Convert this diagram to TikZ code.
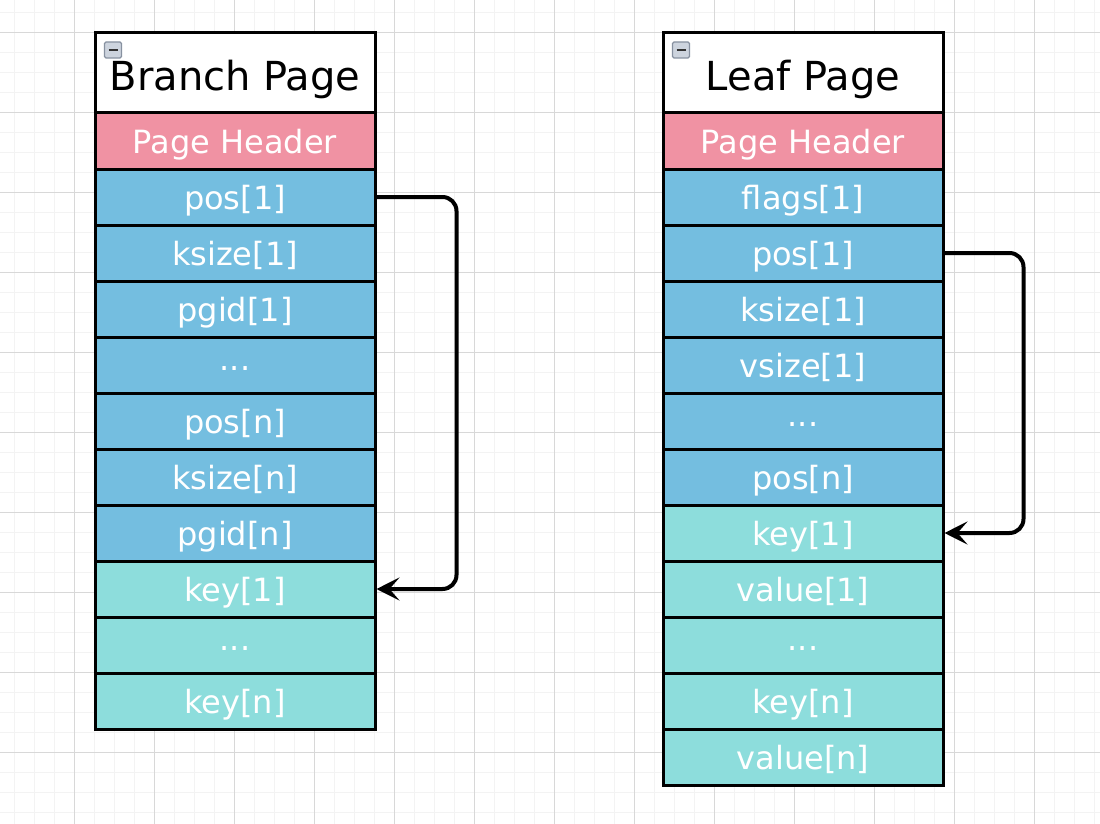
\documentclass[tikz,border=0pt]{standalone}
\usepackage{fontspec}
\setmainfont{DejaVu Sans}
\usetikzlibrary{arrows.meta}
\definecolor{hdr}{RGB}{240,146,163}
\definecolor{blu}{RGB}{116,190,224}
\definecolor{tea}{RGB}{141,221,220}
\definecolor{gmin}{RGB}{243,243,243}
\definecolor{gmaj}{RGB}{216,216,216}
\definecolor{icfill}{RGB}{205,212,222}
\definecolor{icdraw}{RGB}{135,145,160}
\tikzset{
  cell/.style={draw=black,line width=3pt,minimum width=280pt,minimum height=56pt,inner sep=0pt,
    text=white,font=\fontsize{32}{36}\selectfont,text height=25.4pt,text depth=0pt},
  dotcell/.style={text height=10pt,text depth=0pt},
  titlecell/.style={draw=black,line width=3pt,fill=white,minimum width=280pt,minimum height=80pt,inner sep=0pt,
    text=black,font=\fontsize{40}{44}\selectfont,text height=34.6pt,text depth=0pt},
  hcell/.style={cell,fill=hdr},
  bcell/.style={cell,fill=blu},
  tcell/.style={cell,fill=tea},
  link/.style={draw=black,line width=4pt,rounded corners=14pt,-{Stealth[length=23pt,width=23pt,inset=10pt]}},
  minorgrid/.style={draw=gmin,line width=1.2pt},
  majorgrid/.style={draw=gmaj,line width=1.2pt},
  collapse/.style={draw=icdraw,fill=icfill,rounded corners=1.5pt,line width=1.2pt,minimum width=17pt,minimum height=16pt,inner sep=0pt}
}
\begin{document}
\begin{tikzpicture}[x=1pt,y=-1pt]
\useasboundingbox (0,0) rectangle (1100,824);
\fill[white] (0,0) rectangle (1100,824);
% grid
\foreach \i in {0,...,54} {\draw[minorgrid] ({14.7+20*\i},0) -- ++(0,824);}
\foreach \i in {0,...,41} {\draw[minorgrid] (0,{12.7+20*\i}) -- ++(1100,0);}
\foreach \i in {0,...,13} {\draw[majorgrid] ({74.7+80*\i},0) -- ++(0,824);}
\foreach \i in {0,...,9} {\draw[majorgrid] (0,{32.7+80*\i}) -- ++(1100,0);}
% Branch page
\node[titlecell] (bt) at (235,73) {Branch Page};
\node[hcell] (bh) at (235,141) {Page Header};
\node[bcell] (bp1) at (235,197) {pos[1]};
\node[bcell] (bks1) at (235,253) {ksize[1]};
\node[bcell] (bpg1) at (235,309) {pgid[1]};
\node[bcell,dotcell] (bd1) at (235,365) {...};
\node[bcell] (bpn) at (235,421) {pos[n]};
\node[bcell] (bksn) at (235,477) {ksize[n]};
\node[bcell] (bpgn) at (235,533) {pgid[n]};
\node[tcell] (bk1) at (235,589) {key[1]};
\node[tcell,dotcell] (bd2) at (235,645) {...};
\node[tcell] (bkn) at (235,701) {key[n]};
\node[collapse] (bc) at (113,50) {};
\draw[line width=2.5pt,black!80] ([xshift=-4.5pt]bc.center) -- ([xshift=4.5pt]bc.center);
% Leaf page
\node[titlecell] (lt) at (803,73) {Leaf Page};
\node[hcell] (lh) at (803,141) {Page Header};
\node[bcell] (lf1) at (803,197) {flags[1]};
\node[bcell] (lp1) at (803,253) {pos[1]};
\node[bcell] (lks1) at (803,309) {ksize[1]};
\node[bcell] (lvs1) at (803,365) {vsize[1]};
\node[bcell,dotcell] (ld1) at (803,421) {...};
\node[bcell] (lpn) at (803,477) {pos[n]};
\node[tcell] (lk1) at (803,533) {key[1]};
\node[tcell] (lv1) at (803,589) {value[1]};
\node[tcell,dotcell] (ld2) at (803,645) {...};
\node[tcell] (lkn) at (803,701) {key[n]};
\node[tcell] (lvn) at (803,757) {value[n]};
\node[collapse] (lc) at (681,50) {};
\draw[line width=2.5pt,black!80] ([xshift=-4.5pt]lc.center) -- ([xshift=4.5pt]lc.center);
% links
\draw[link] (bp1.east) -- ++(80,0) |- (bk1.east);
\draw[link] (lp1.east) -- ++(79,0) |- (lk1.east);
\end{tikzpicture}
\end{document}
